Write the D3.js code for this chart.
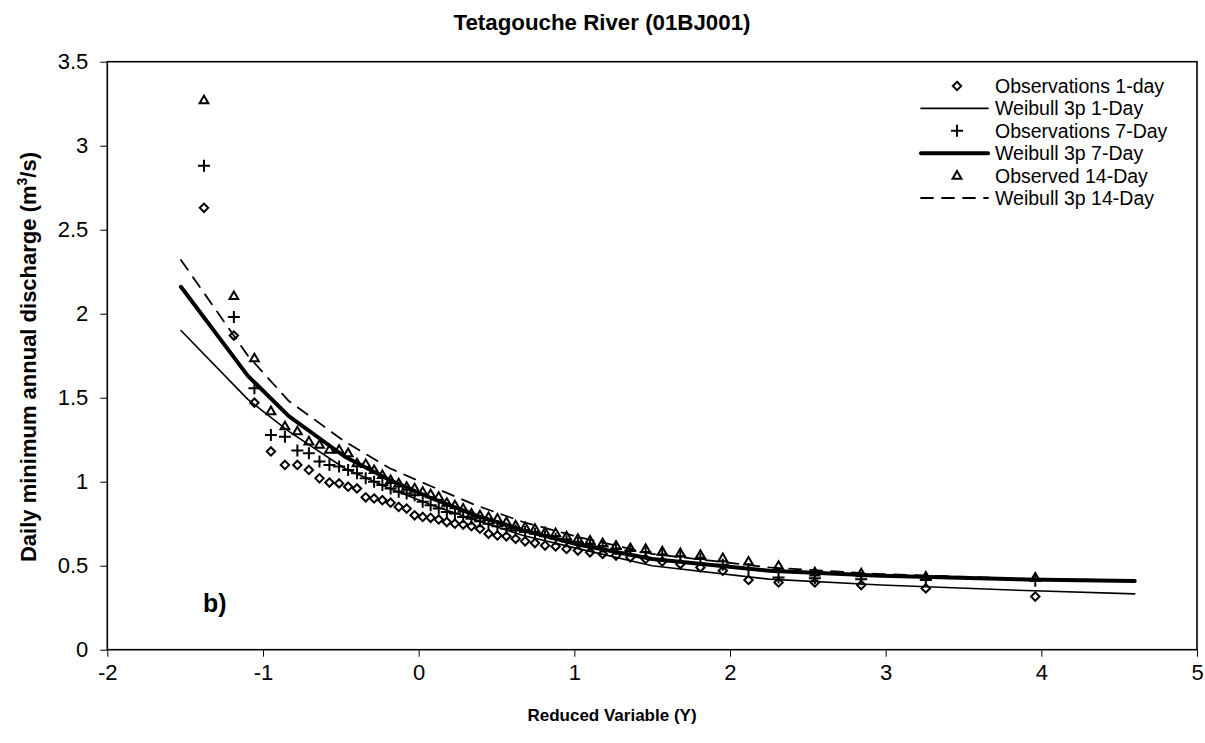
<!DOCTYPE html>
<html>
<head>
<meta charset="utf-8">
<script src="https://cdn.jsdelivr.net/npm/d3@7"></script>
<style>
  html, body { margin: 0; padding: 0; background: #fff; }
  svg { display: block; font-family: "Liberation Sans", Arial, sans-serif; }
</style>
</head>
<body>
<svg id="chart" width="1205" height="743"></svg>
<script>
// Reduced variable (Gumbel) of each ranked observation, 52 years of record
const reducedY = [
  -1.379, -1.187, -1.055, -0.949, -0.859, -0.779, -0.705, -0.637, -0.573, -0.511,
  -0.453, -0.396, -0.340, -0.286, -0.233, -0.180, -0.128, -0.077, -0.026, 0.026,
  0.077, 0.129, 0.181, 0.233, 0.286, 0.339, 0.394, 0.449, 0.506, 0.564,
  0.623, 0.684, 0.747, 0.812, 0.880, 0.950, 1.023, 1.101, 1.182, 1.268,
  1.360, 1.458, 1.565, 1.681, 1.810, 1.954, 2.119, 2.312, 2.545, 2.843,
  3.258, 3.961
];

// Observed annual minima (m3/s)
const obs1Day = [
  2.63, 1.87, 1.47, 1.18, 1.10, 1.10, 1.07, 1.02, 0.995, 0.99,
  0.97, 0.96, 0.907, 0.90, 0.89, 0.875, 0.85, 0.84, 0.80, 0.79,
  0.785, 0.775, 0.76, 0.75, 0.745, 0.735, 0.72, 0.69, 0.68, 0.675,
  0.66, 0.645, 0.635, 0.62, 0.615, 0.60, 0.59, 0.58, 0.57, 0.56,
  0.55, 0.54, 0.525, 0.51, 0.49, 0.47, 0.415, 0.40, 0.40, 0.385,
  0.365, 0.316
];
const obs7Day = [
  2.88, 1.98, 1.556, 1.278, 1.268, 1.185, 1.17, 1.12, 1.10, 1.09,
  1.07, 1.05, 1.02, 1.00, 0.98, 0.96, 0.94, 0.93, 0.92, 0.88,
  0.86, 0.84, 0.82, 0.81, 0.79, 0.78, 0.765, 0.75, 0.735, 0.72,
  0.71, 0.70, 0.69, 0.675, 0.66, 0.645, 0.635, 0.625, 0.615, 0.60,
  0.59, 0.58, 0.565, 0.555, 0.54, 0.505, 0.48, 0.43, 0.425, 0.42,
  0.415, 0.41
];
const obs14Day = [
  3.27, 2.105, 1.735, 1.42, 1.33, 1.30, 1.24, 1.22, 1.19, 1.19,
  1.17, 1.11, 1.105, 1.07, 1.04, 1.01, 0.99, 0.97, 0.96, 0.94,
  0.925, 0.91, 0.875, 0.86, 0.84, 0.81, 0.80, 0.79, 0.78, 0.76,
  0.74, 0.73, 0.72, 0.70, 0.695, 0.675, 0.66, 0.65, 0.635, 0.62,
  0.605, 0.60, 0.585, 0.575, 0.565, 0.545, 0.525, 0.50, 0.46, 0.455,
  0.435, 0.43
];

// Fitted 3-parameter Weibull quantiles at non-exceedance probabilities
// 0.01, 0.05, 0.1, 0.2 ... 0.9, 0.95, 0.98, 0.99 (reduced variable below)
const fitY = [-1.527, -1.097, -0.834, -0.476, -0.186, 0.087, 0.367, 0.672, 1.031, 1.500, 2.250, 2.970, 3.902, 4.600];
const fit1Day = [1.90, 1.49, 1.30, 1.08, 0.96, 0.86, 0.77, 0.68, 0.60, 0.50, 0.42, 0.385, 0.352, 0.332];
const fit7Day = [2.16, 1.63, 1.39, 1.15, 1.01, 0.90, 0.80, 0.71, 0.625, 0.54, 0.47, 0.44, 0.418, 0.409];
const fit14Day = [2.32, 1.75, 1.48, 1.24, 1.08, 0.97, 0.86, 0.76, 0.67, 0.57, 0.49, 0.45, 0.422, 0.412];

const xTicks = [-2, -1, 0, 1, 2, 3, 4, 5];
const yTicks = [0, 0.5, 1, 1.5, 2, 2.5, 3, 3.5];

const legendLabels = [
  "Observations 1-day", "Weibull 3p 1-Day",
  "Observations 7-Day", "Weibull 3p 7-Day",
  "Observed 14-Day", "Weibull 3p 14-Day"
];

const svg = d3.select("#chart");
const plotLeft = 107.3, plotRight = 1197, plotTop = 61.7, plotBottom = 649.7;

const x = d3.scaleLinear().domain([-2, 5]).range([plotLeft, plotRight]);
const y = d3.scaleLinear().domain([0, 3.5]).range([plotBottom, plotTop]);

// Axes
const xAxis = svg.append("g")
  .attr("transform", `translate(0,${plotBottom})`)
  .call(d3.axisBottom(x).tickValues(xTicks).tickSize(7).tickPadding(8).tickFormat(d => String(d)));
const yAxis = svg.append("g")
  .attr("transform", `translate(${plotLeft},0)`)
  .call(d3.axisLeft(y).tickValues(yTicks).tickSize(7).tickPadding(12).tickFormat(d3.format("~g")));
[xAxis, yAxis].forEach(g => {
  g.select(".domain").remove();
  g.selectAll(".tick line").attr("stroke", "#000").attr("stroke-width", 1);
  g.selectAll(".tick text").attr("fill", "#000")
    .style("font-family", '"Liberation Sans", Arial, sans-serif').style("font-size", "22px");
});

// Plot frame
svg.append("rect")
  .attr("x", plotLeft).attr("y", plotTop)
  .attr("width", plotRight - plotLeft).attr("height", plotBottom - plotTop)
  .attr("fill", "none").attr("stroke", "#000").attr("stroke-width", 1.6);

const plot = svg.append("g");
const line = d3.line().x(d => x(d[0])).y(d => y(d[1]));

const symDiamond = d3.symbol().type(d3.symbolDiamond2).size(45);
const symTriangle = d3.symbol().type(d3.symbolTriangle2).size(55);

function drawMarkers(values, kind) {
  const pts = reducedY.map((v, i) => [v, values[i]]);
  const g = plot.append("g");
  if (kind === "plus") {
    g.selectAll("path").data(pts).join("path")
      .attr("d", "M-6,0H6M0,-6V6")
      .attr("transform", d => `translate(${x(d[0])},${y(d[1])})`)
      .attr("fill", "none").attr("stroke", "#000").attr("stroke-width", 2);
  } else {
    const sym = kind === "diamond" ? symDiamond : symTriangle;
    g.selectAll("path").data(pts).join("path")
      .attr("d", sym)
      .attr("transform", d => `translate(${x(d[0])},${y(d[1]) + (kind === "triangle" ? 0.5 : 0)})`)
      .attr("fill", "none").attr("stroke", "#000").attr("stroke-width", 2);
  }
}
function drawFit(values, width, dash) {
  plot.append("path")
    .datum(fitY.map((v, i) => [v, values[i]]))
    .attr("d", line)
    .attr("fill", "none").attr("stroke", "#000")
    .attr("stroke-width", width)
    .attr("stroke-dasharray", dash)
    .attr("stroke-linejoin", "round").attr("stroke-linecap", "round");
}

drawMarkers(obs1Day, "diamond");
drawFit(fit1Day, 1.6, null);
drawMarkers(obs7Day, "plus");
drawFit(fit7Day, 4, null);
drawMarkers(obs14Day, "triangle");
drawFit(fit14Day, 1.8, "12,9");

// Panel tag
svg.append("text").attr("x", 203).attr("y", 612)
  .style("font-weight", "bold").style("font-size", "25px").text("b)");

// Titles
svg.append("text").attr("x", 602).attr("y", 30).attr("text-anchor", "middle")
  .style("font-weight", "bold").style("font-size", "22.3px").text("Tetagouche River (01BJ001)");
svg.append("text").attr("x", 612).attr("y", 721).attr("text-anchor", "middle")
  .style("font-weight", "bold").style("font-size", "17px").text("Reduced Variable (Y)");
const yt = svg.append("text")
  .attr("transform", "translate(36,357) rotate(-90)")
  .attr("text-anchor", "middle")
  .style("font-weight", "bold").style("font-size", "22px");
yt.append("tspan").text("Daily minimum annual discharge (m");
yt.append("tspan").attr("dy", -9).style("font-size", "14px").text("3");
yt.append("tspan").attr("dy", 9).text("/s)");

// Legend
const legend = svg.append("g");
const rowY = [86, 108.4, 130.8, 153.2, 175.6, 198];
const legendKinds = ["diamond", "thin", "plus", "thick", "triangle", "dash"];
legendKinds.forEach((k, i) => {
  const cy = rowY[i];
  if (k === "diamond") {
    legend.append("path").attr("d", symDiamond).attr("transform", `translate(957,${cy})`)
      .attr("fill", "none").attr("stroke", "#000").attr("stroke-width", 2);
  } else if (k === "triangle") {
    legend.append("path").attr("d", symTriangle).attr("transform", `translate(957,${cy + 0.5})`)
      .attr("fill", "none").attr("stroke", "#000").attr("stroke-width", 2);
  } else if (k === "plus") {
    legend.append("path").attr("d", "M-6,0H6M0,-6V6").attr("transform", `translate(957,${cy})`)
      .attr("fill", "none").attr("stroke", "#000").attr("stroke-width", 2);
  } else {
    legend.append("line").attr("x1", 921).attr("x2", 988).attr("y1", cy).attr("y2", cy)
      .attr("stroke", "#000")
      .attr("stroke-width", k === "thick" ? 4 : (k === "thin" ? 1.6 : 1.8))
      .attr("stroke-dasharray", k === "dash" ? "12,9" : null)
      .attr("stroke-linecap", "round");
  }
  legend.append("text").attr("x", 995).attr("y", cy + 7)
    .style("font-size", "19.5px").text(legendLabels[i]);
});
</script>
</body>
</html>
